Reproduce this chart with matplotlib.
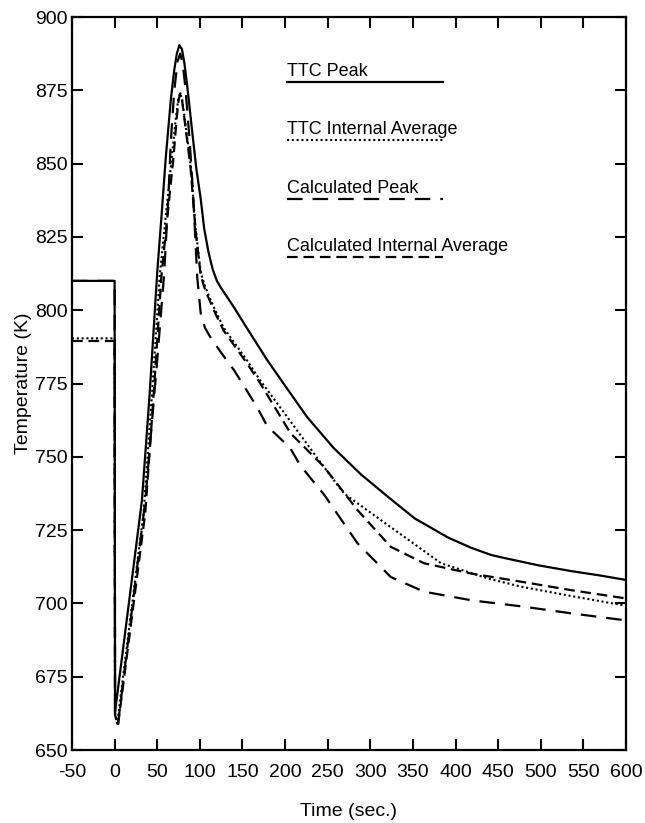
import matplotlib
matplotlib.use("Agg")
import matplotlib.pyplot as plt

plt.rcParams['font.family'] = ['Liberation Sans', 'DejaVu Sans']

# TTC Peak (measured)
ttc_peak_t = [-50, 0, 0.5, 32, 41, 50, 55, 60, 66, 70, 73, 76, 79, 82, 85, 88, 91, 96, 101, 105, 110,
              115, 120, 125, 132, 140, 155, 179, 203, 226, 257, 289, 318, 352, 391, 418, 442, 457, 497,
              536, 570, 600]
ttc_peak_T = [810, 810, 663, 735, 771, 813, 832, 852, 872, 882, 887.5, 890.4, 889, 884, 877, 869, 861, 848,
              838, 828, 820, 814, 810, 807.5, 804.5, 801, 794, 783, 773, 763.5, 753, 744, 737, 729, 722.5,
              719, 716.5, 715.5, 713, 711, 709.5, 708]

# TTC Internal Average (measured)
ttc_avg_t = [-50, 0, 0.5, 3, 34, 44, 53, 61, 67, 72, 75, 77, 79, 82, 89, 95, 101, 105, 109, 118, 128,
             155, 171, 199, 238, 269, 324, 383, 438, 477, 536, 600]
ttc_avg_T = [790.4, 790.4, 662, 659, 731, 772, 812, 835, 852, 866, 872.5, 874, 872, 866, 850, 828, 813,
             809, 806, 800, 794, 783, 776, 765, 749.5, 737.5, 726, 713.7, 708.5, 705.7, 702.5, 699.2]

# Calculated Peak
calc_peak_t = [-50, 0, 0.5, 4, 36, 50, 58, 63, 66, 70, 74, 77, 80, 83, 88, 92, 97, 101, 106, 112,
               125, 140, 167, 179, 206, 218, 246, 285, 324, 363, 420, 477, 536, 600]
calc_peak_T = [810, 810, 662, 659, 735, 783, 812, 838, 858, 875, 885, 887.5, 884, 876, 858, 840, 811, 799,
               794, 791, 785.5, 779.6, 767, 760.5, 753, 747, 737, 720.5, 709, 704, 701, 699, 696.6, 694.2]

# Calculated Internal Average
calc_avg_t = [-50, 0, 0.5, 4, 36, 46, 55, 63, 69, 73, 75, 77, 79, 82, 89, 95, 101, 105, 109, 118, 128,
              155, 171, 206.5, 245.6, 285, 324, 363, 418, 477, 536, 600]
calc_avg_T = [789.5, 789.5, 662, 658.5, 731, 772, 812, 835, 852, 866, 871.5, 874, 872, 865, 849, 827, 812,
              808, 805, 799, 793, 782, 775, 758, 746.6, 731.8, 719.3, 713.7, 710.2, 707.4, 704.5, 701.7]

series_labels = ["TTC Peak", "TTC Internal Average", "Calculated Peak", "Calculated Internal Average"]

x_ticks = list(range(-50, 601, 50))
y_ticks = list(range(650, 901, 25))

styles = [
    dict(linestyle='-', linewidth=1.6),
    dict(linestyle=(0, (1, 1.3)), linewidth=1.5),
    dict(linestyle=(0, (7, 4.5)), linewidth=1.6),
    dict(linestyle=(0, (4.8, 2.6)), linewidth=1.6),
]

fig = plt.figure(figsize=(6.45, 8.23), dpi=100)
ax = fig.add_axes([72 / 645, 1 - 750 / 823, 554 / 645, 733 / 823])

series = [(ttc_peak_t, ttc_peak_T), (ttc_avg_t, ttc_avg_T),
          (calc_peak_t, calc_peak_T), (calc_avg_t, calc_avg_T)]
for (t, T), st in zip(series, styles):
    ax.plot(t, T, color='black', solid_joinstyle='round', dash_joinstyle='round', **st)

ax.set_xlim(-50, 600)
ax.set_ylim(650, 900)
ax.set_xticks(x_ticks)
ax.set_yticks(y_ticks)
ax.set_xticklabels([str(v) for v in x_ticks])
ax.set_yticklabels([str(v) for v in y_ticks])

for s in ax.spines.values():
    s.set_linewidth(1.6)
ax.tick_params(axis='both', which='major', direction='in', length=8, width=1.5,
               top=True, right=True, labelsize=14)
ax.tick_params(axis='x', pad=10)
ax.tick_params(axis='y', pad=3)

ax.set_xlabel("Time (sec.)", fontsize=14, labelpad=16)
ax.set_ylabel("Temperature (K)", fontsize=14, labelpad=2)

# Underlined legend entries inside the plot area
leg_x0, leg_x1 = 0.388, 0.67
leg_rows = [0.911, 0.832, 0.752, 0.673]
for label, yy, st in zip(series_labels, leg_rows, styles):
    ax.text(leg_x0, yy + 0.008, label, transform=ax.transAxes, fontsize=13,
            ha='left', va='baseline')
    ax.plot([leg_x0, leg_x1], [yy, yy], transform=ax.transAxes, color='black', **st)

fig.savefig("out.png", dpi=100)
